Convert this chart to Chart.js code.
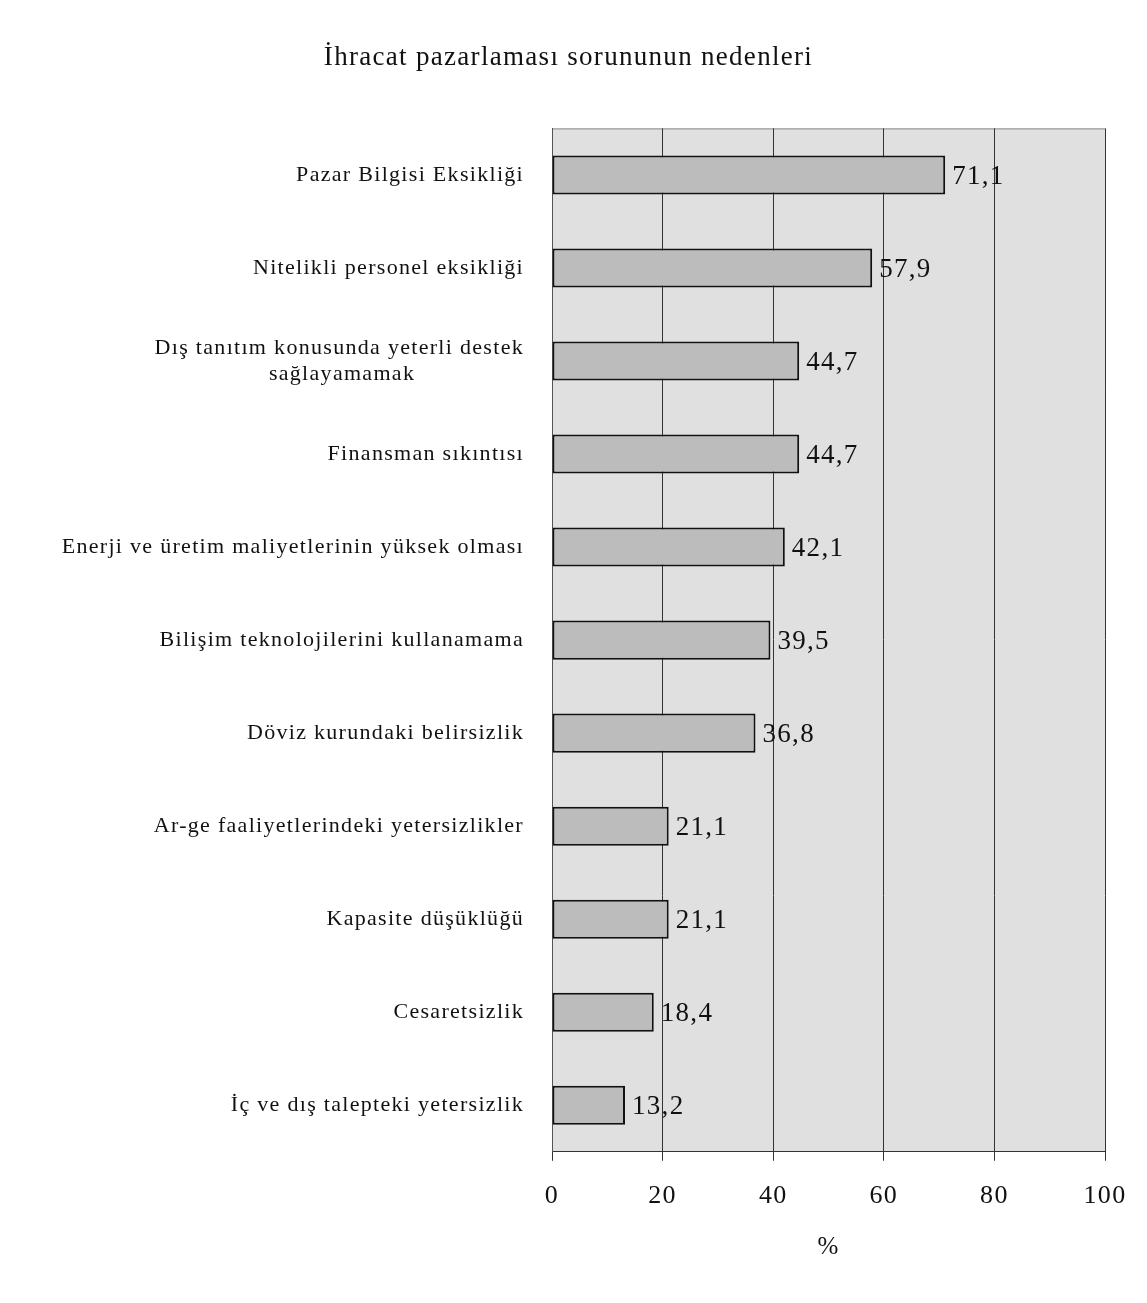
<!DOCTYPE html>
<html lang="tr">
<head>
    <meta charset="UTF-8">
    <title>İhracat pazarlaması sorununun nedenleri</title>
    <script src="https://cdn.jsdelivr.net/npm/chart.js"></script>
    <style>
        body { margin: 0; background: #fff; }
        #wrap { width: 1147px; height: 1303px; }
    </style>
</head>
<body>
    <div id="wrap">
        <canvas id="chart" width="1147" height="1303"></canvas>
    </div>

    <script>
        // Kategoriler ve değerler (%)
        const categories = [
            'Pazar Bilgisi Eksikliği',
            'Nitelikli personel eksikliği',
            ['Dış tanıtım konusunda yeterli destek', 'sağlayamamak'],
            'Finansman sıkıntısı',
            'Enerji ve üretim maliyetlerinin yüksek olması',
            'Bilişim teknolojilerini kullanamama',
            'Döviz kurundaki belirsizlik',
            'Ar-ge faaliyetlerindeki yetersizlikler',
            'Kapasite düşüklüğü',
            'Cesaretsizlik',
            'İç ve dış talepteki yetersizlik'
        ];
        const values = [71.1, 57.9, 44.7, 44.7, 42.1, 39.5, 36.8, 21.1, 21.1, 18.4, 13.2];
        const xTicks = [0, 20, 40, 60, 80, 100];

        const serif = '"Liberation Serif", "DejaVu Serif", serif';
        const spacing = '1.3px';

        // Çok satırlı etiketlerde kısa satırı ortalamak için boşluk ekle
        const measure = document.createElement('canvas').getContext('2d');
        function centerLines(lines) {
            measure.font = '22px ' + serif;
            measure.letterSpacing = spacing;
            const widths = lines.map(l => measure.measureText(l).width);
            const maxW = Math.max(...widths);
            const nb = measure.measureText('\u00A0').width;
            return lines.map((l, i) => {
                const n = Math.round((maxW - widths[i]) / 2 / nb);
                return l + '\u00A0'.repeat(n);
            });
        }

        // Çizim alanı arka planı + harf aralığı
        const plotBackground = {
            id: 'plotBackground',
            beforeDraw(chart) {
                const { ctx, chartArea: a } = chart;
                ctx.letterSpacing = spacing;
                ctx.save();
                ctx.fillStyle = '#e0e0e0';
                ctx.fillRect(a.left, a.top, a.right - a.left, a.bottom - a.top);
                ctx.strokeStyle = '#8a8a8a';
                ctx.lineWidth = 1;
                ctx.beginPath();
                ctx.moveTo(a.left, a.top + 0.5);
                ctx.lineTo(a.right, a.top + 0.5);
                ctx.stroke();
                ctx.restore();
            },
            afterDraw(chart) {
                chart.ctx.letterSpacing = '0px';
            }
        };

        // Çubuk sonundaki değer etiketleri
        const valueLabels = {
            id: 'valueLabels',
            afterDatasetsDraw(chart) {
                const { ctx } = chart;
                const meta = chart.getDatasetMeta(0);
                ctx.save();
                ctx.font = '27px ' + serif;
                ctx.fillStyle = '#111';
                ctx.textAlign = 'left';
                ctx.textBaseline = 'alphabetic';
                meta.data.forEach((bar, i) => {
                    const txt = values[i].toFixed(1).replace('.', ',');
                    ctx.fillText(txt, bar.x + 7, bar.y + 9);
                });
                ctx.restore();
            }
        };

        const ctx = document.getElementById('chart').getContext('2d');
        new Chart(ctx, {
            type: 'bar',
            data: {
                labels: categories,
                datasets: [{
                    data: values,
                    backgroundColor: '#bcbcbc',
                    borderColor: '#111',
                    borderWidth: 2,
                    borderSkipped: false,
                    barPercentage: 0.42,
                    categoryPercentage: 1
                }]
            },
            options: {
                indexAxis: 'y',
                responsive: false,
                animation: false,
                layout: { padding: { left: 32, right: 42, top: 0, bottom: 41 } },
                plugins: {
                    legend: { display: false },
                    tooltip: { enabled: false },
                    title: {
                        display: true,
                        text: 'İhracat pazarlaması sorununun nedenleri',
                        color: '#111',
                        font: { family: serif, size: 27, weight: 'normal' },
                        padding: { top: 42, bottom: 54 }
                    }
                },
                scales: {
                    x: {
                        min: 0,
                        max: 100,
                        afterBuildTicks(scale) {
                            scale.ticks = xTicks.map(v => ({ value: v }));
                        },
                        grid: {
                            color: '#333',
                            lineWidth: 1,
                            drawTicks: true,
                            tickLength: 9,
                            tickColor: '#333'
                        },
                        border: { display: true, color: '#333', width: 1 },
                        ticks: {
                            color: '#111',
                            font: { family: serif, size: 26 },
                            padding: 20
                        },
                        title: {
                            display: true,
                            text: '%',
                            color: '#111',
                            font: { family: serif, size: 25 },
                            padding: { top: 0, bottom: 0 }
                        }
                    },
                    y: {
                        afterFit(scale) { scale.width = 520; },
                        grid: { display: false },
                        border: { display: true, color: '#555', width: 1 },
                        ticks: {
                            color: '#111',
                            font: { family: serif, size: 22 },
                            padding: 20,
                            autoSkip: false,
                            callback(value, index) {
                                const lab = categories[index];
                                return Array.isArray(lab) ? centerLines(lab) : lab;
                            }
                        }
                    }
                }
            },
            plugins: [plotBackground, valueLabels]
        });
    </script>
</body>
</html>
